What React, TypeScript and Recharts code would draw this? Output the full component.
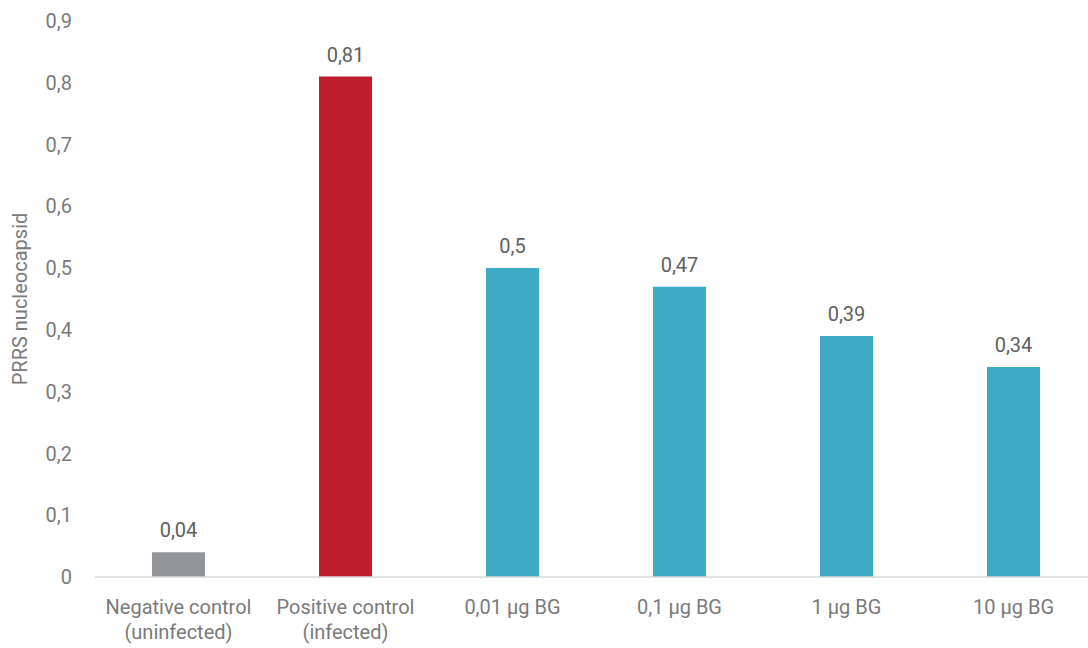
import React from 'react';
import { BarChart, Bar, XAxis, YAxis, Cell, LabelList } from 'recharts';

const categories = ['Negative control\n(uninfected)', 'Positive control\n(infected)', '0,01 µg BG', '0,1 µg BG', '1 µg BG', '10 µg BG'];
const values = [0.04, 0.81, 0.5, 0.47, 0.39, 0.34];
const colors = ['#939598', '#be1e2d', '#3eaac6', '#3eaac6', '#3eaac6', '#3eaac6'];
const yTicks = [0, 0.1, 0.2, 0.3, 0.4, 0.5, 0.6, 0.7, 0.8, 0.9];

const data = categories.map((c, i) => ({ name: c, value: values[i] }));
const FONT = '"Liberation Sans Narrow", "Arial Narrow", Roboto, sans-serif';
const fmt = (v: number) => String(v).replace('.', ',');

const XTick = (props: any) => {
  const { x, y, payload } = props;
  const lines = String(payload.value).split('\n');
  return (
    <text x={x} y={y} textAnchor="middle" fill="#7a7a7a" fontSize={20} fontFamily={FONT}>
      {lines.map((l, i) => (
        <tspan key={i} x={x} dy={i === 0 ? 37 : 25}>{l}</tspan>
      ))}
    </text>
  );
};

export default function App() {
  return (
    <div style={{ position: 'absolute', left: 0, top: 0, width: 1088, height: 648, overflow: 'hidden', background: '#fff' }}>
      <BarChart width={1100} height={648} data={data} margin={{ top: 21, right: 3, bottom: 0, left: 0 }} barSize={53}>
        <XAxis dataKey="name" interval={0} tick={<XTick />} tickLine={false} tickSize={0} tickMargin={0} axisLine={{ stroke: '#d9d9d9', strokeWidth: 1.5 }} height={71} />
        <YAxis
          domain={[0, 0.9]}
          ticks={yTicks}
          width={95}
          axisLine={false}
          tickLine={false}
          tickSize={0}
          tickMargin={23}
          tickFormatter={fmt}
          tick={{ fill: '#7a7a7a', fontSize: 20, fontFamily: FONT }}
          label={{ value: 'PRRS nucleocapsid', angle: -90, position: 'insideLeft', offset: 20, style: { textAnchor: 'middle', fill: '#7a7a7a', fontSize: 20, fontFamily: FONT } }}
        />
        <Bar dataKey="value" isAnimationActive={false}>
          {data.map((d, i) => (
            <Cell key={i} fill={colors[i]} />
          ))}
          <LabelList dataKey="value" position="top" offset={15} formatter={fmt} fill="#606060" fontSize={20} fontFamily={FONT} />
        </Bar>
      </BarChart>
    </div>
  );
}
